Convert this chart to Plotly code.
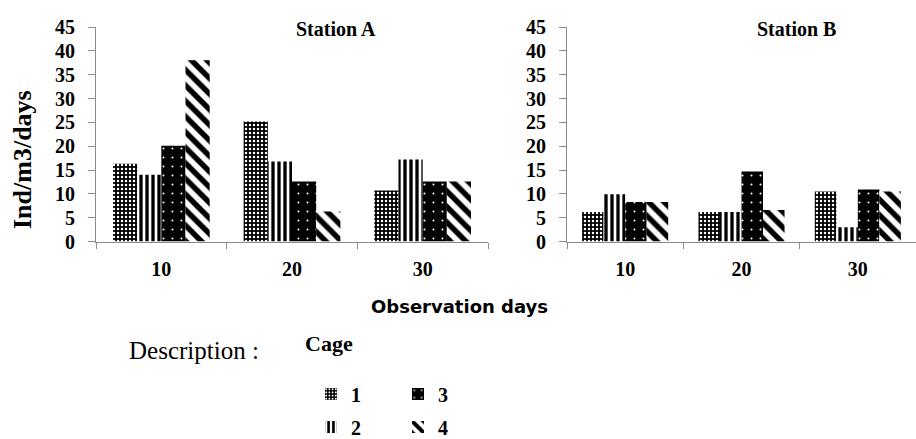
import plotly.graph_objects as go

days = ["10", "20", "30"]
cages = ["1", "2", "3", "4"]

# Station A values (Ind/m3/days) per cage, for days 10, 20, 30
station_a = {
    "1": [16.3, 25.2, 10.7],
    "2": [14.0, 16.8, 17.2],
    "3": [20.1, 12.6, 12.6],
    "4": [38.0, 6.3, 12.6],
}
# Station B values
station_b = {
    "1": [6.2, 6.2, 10.5],
    "2": [9.9, 6.2, 3.0],
    "3": [8.3, 14.7, 10.9],
    "4": [8.3, 6.6, 10.5],
}

W, H = 916, 439
serif = "Liberation Serif, Times New Roman, serif"

patterns = {
    "1": dict(shape=".", fgcolor="white", bgcolor="black", size=4, solidity=0.3, fillmode="replace"),
    "2": dict(shape="|", fgcolor="black", bgcolor="white", size=6, solidity=0.55, fillmode="replace"),
    "3": dict(shape=".", fgcolor="white", bgcolor="black", size=9, solidity=0.04, fillmode="replace"),
    "4": dict(shape="\\", fgcolor="black", bgcolor="white", size=11, solidity=0.5, fillmode="replace"),
}
legend_of = {"1": "legend", "3": "legend", "2": "legend2", "4": "legend2"}

fig = go.Figure()
for c in cages:
    fig.add_trace(go.Bar(
        x=days, y=station_a[c], name=c, xaxis="x", yaxis="y",
        marker=dict(color="black", line=dict(width=0), pattern=patterns[c]),
        legend=legend_of[c], showlegend=True,
    ))
for c in cages:
    fig.add_trace(go.Bar(
        x=days, y=station_b[c], name=c, xaxis="x2", yaxis="y2",
        marker=dict(color="black", line=dict(width=0), pattern=patterns[c]),
        legend=legend_of[c], showlegend=False,
    ))

tickfont = dict(family=serif, size=20, color="black", weight="bold")
axcommon = dict(showline=True, linecolor="#8c8c8c", linewidth=1, ticks="outside",
                tickcolor="#8c8c8c", showgrid=False, zeroline=False, tickfont=tickfont)

ydom = [(H - 241.5) / H, (H - 27) / H]
legfont = dict(family=serif, size=20, color="black", weight="bold")
fig.update_layout(
    width=W, height=H, margin=dict(l=0, r=0, t=0, b=0, autoexpand=False),
    paper_bgcolor="white", plot_bgcolor="white",
    barmode="group", bargap=0.26, bargroupgap=0,
    xaxis=dict(domain=[96 / W, 488 / W], type="category", tickson="boundaries",
               ticklen=6, range=[-0.5, 2.5], ticklabelstandoff=9, automargin=False, **axcommon),
    xaxis2=dict(domain=[567 / W, 1.0], type="category", tickson="boundaries",
                ticklen=6, range=[-0.5, 2.5], ticklabelstandoff=9, anchor="y2",
                automargin=False, **axcommon),
    yaxis=dict(domain=ydom, range=[0, 45], dtick=5, ticklen=7, ticklabelstandoff=9,
               anchor="x", automargin=False, **axcommon),
    yaxis2=dict(domain=ydom, range=[0, 45], dtick=5, ticklen=7, ticklabelstandoff=9,
                anchor="x2", automargin=False, **axcommon),
    legend=dict(orientation="h", x=311 / W, y=1 - 394 / H, xanchor="left", yanchor="middle",
                font=legfont, entrywidth=42, itemwidth=30, bgcolor="rgba(0,0,0,0)"),
    legend2=dict(orientation="h", x=311 / W, y=1 - 427 / H, xanchor="left", yanchor="middle",
                 font=legfont, entrywidth=42, itemwidth=30, bgcolor="rgba(0,0,0,0)"),
    annotations=[
        dict(text="<b>Station A</b>", x=336 / W, y=1 - 29 / H, xref="paper", yref="paper",
             xanchor="center", yanchor="middle", showarrow=False,
             font=dict(family=serif, size=20, color="black")),
        dict(text="<b>Station B</b>", x=796 / W, y=1 - 29 / H, xref="paper", yref="paper",
             xanchor="center", yanchor="middle", showarrow=False,
             font=dict(family=serif, size=20, color="black")),
        dict(text="<b>Ind/m3/days</b>", x=22 / W, y=1 - 160 / H, xref="paper", yref="paper",
             xanchor="center", yanchor="middle", textangle=-90, showarrow=False,
             font=dict(family=serif, size=26, color="black")),
        dict(text="<b>Observation days</b>", x=459 / W, y=1 - 306 / H, xref="paper", yref="paper",
             xanchor="center", yanchor="middle", showarrow=False,
             font=dict(family="DejaVu Sans", size=18, color="black")),
        dict(text="Description :", x=127 / W, y=1 - 350 / H, xref="paper", yref="paper",
             xanchor="left", yanchor="middle", showarrow=False,
             font=dict(family=serif, size=25, color="black")),
        dict(text="<b>Cage</b>", x=303 / W, y=1 - 343 / H, xref="paper", yref="paper",
             xanchor="left", yanchor="middle", showarrow=False,
             font=dict(family=serif, size=22, color="black")),
    ],
)

fig.write_html("out.html")
